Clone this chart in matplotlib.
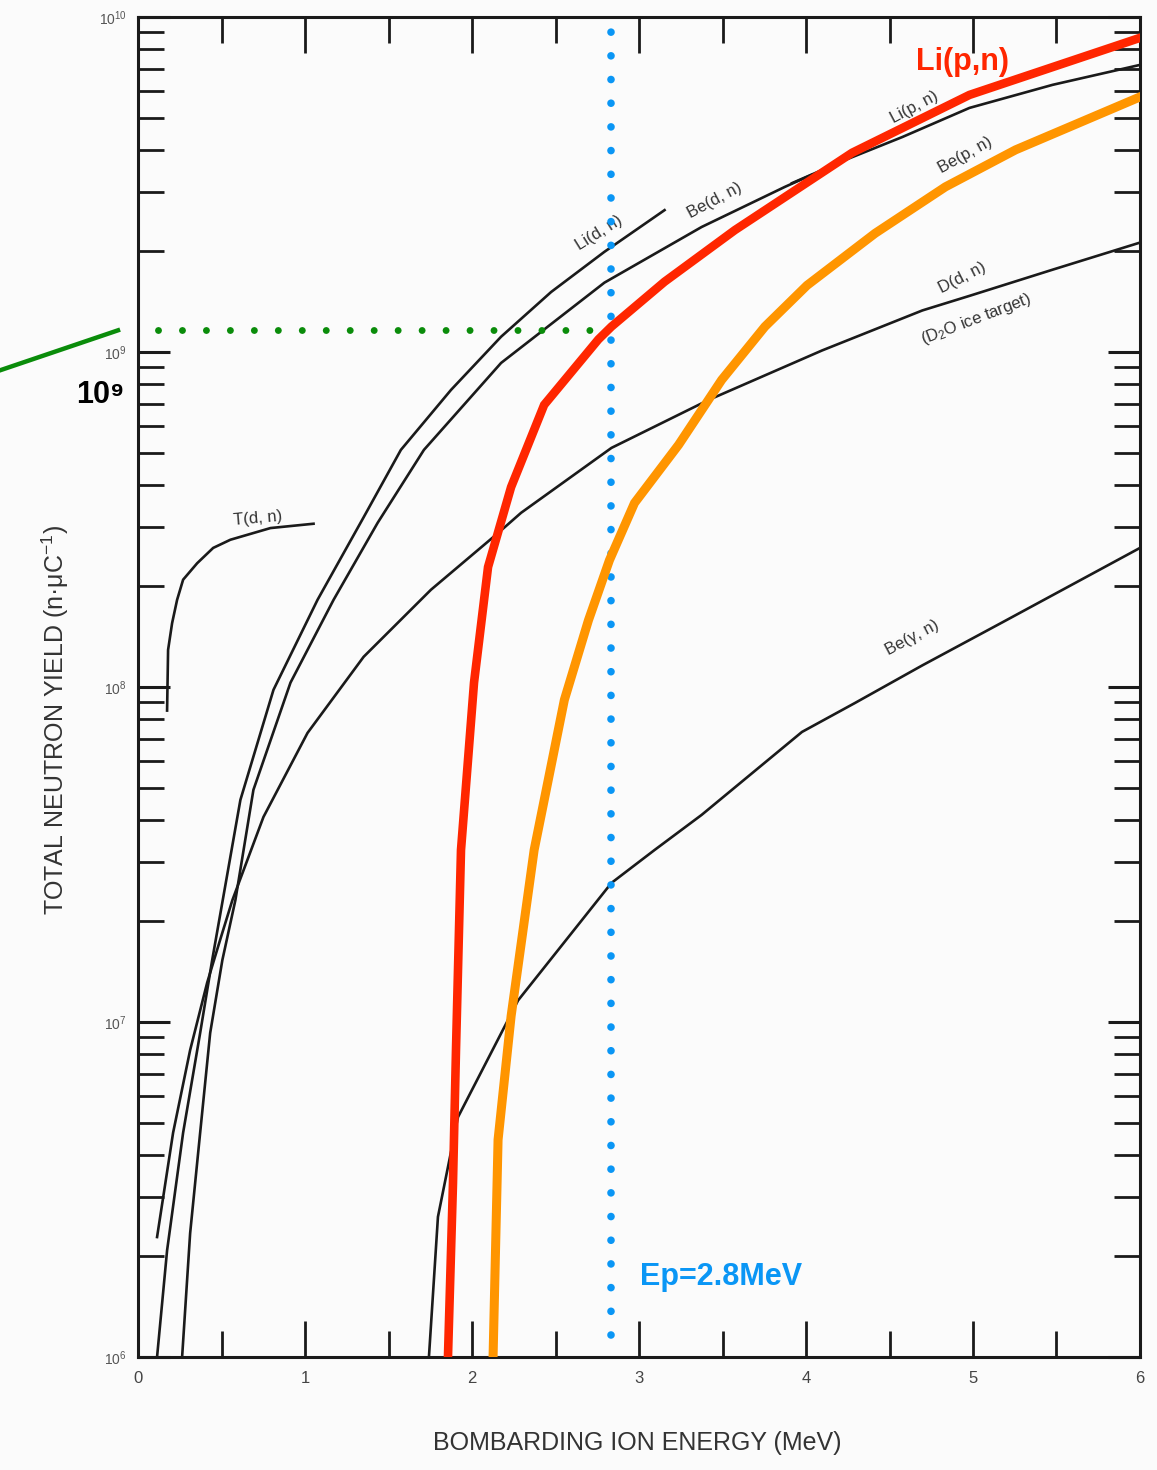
import numpy as np
import matplotlib.pyplot as plt
from matplotlib.ticker import MultipleLocator, LogLocator, NullFormatter

plt.rcParams['font.family'] = ['Liberation Sans', 'DejaVu Sans']
plt.rcParams['mathtext.fontset'] = 'custom'
plt.rcParams['mathtext.rm'] = 'Liberation Sans'
plt.rcParams['mathtext.it'] = 'Liberation Sans:italic'
plt.rcParams['mathtext.bf'] = 'Liberation Sans:bold'

# curves (energy in MeV, yield in n/uC)
td_x = [0.174, 0.180, 0.204, 0.234, 0.270, 0.354, 0.450, 0.553, 0.793, 1.051]
td_y = [8.5e7, 1.29e8, 1.55e8, 1.82e8, 2.09e8, 2.34e8, 2.60e8, 2.75e8, 2.98e8, 3.07e8]

lid_x = [0.114, 0.174, 0.270, 0.372, 0.444, 0.613, 0.811, 1.075, 1.351, 1.574,
         1.874, 2.174, 2.474, 2.793, 3.153]
lid_y = [1.0e6, 2.08e6, 4.67e6, 9.27e6, 1.53e7, 4.60e7, 9.8e7, 1.82e8, 3.21e8, 5.10e8,
         7.70e8, 1.11e9, 1.51e9, 1.99e9, 2.65e9]

bed_x = [0.264, 0.312, 0.372, 0.432, 0.505, 0.583, 0.691, 0.913, 1.171, 1.435,
         1.712, 2.174, 2.793, 3.375, 3.874, 4.036]
bed_y = [1.0e6, 2.34e6, 4.67e6, 9.27e6, 1.53e7, 2.31e7, 4.93e7, 1.03e8, 1.82e8, 3.09e8,
         5.10e8, 9.27e8, 1.61e9, 2.36e9, 3.11e9, 3.38e9]

dd_x = [0.114, 0.210, 0.312, 0.414, 0.492, 0.565, 0.751, 1.015, 1.351, 1.754,
        2.156, 2.294, 2.835, 3.417, 4.096, 4.697, 4.979, 5.477, 6.0]
dd_y = [2.28e6, 4.67e6, 8.24e6, 1.31e7, 1.76e7, 2.31e7, 4.09e7, 7.29e7, 1.23e8, 1.95e8,
        2.88e8, 3.31e8, 5.17e8, 7.19e8, 1.01e9, 1.33e9, 1.47e9, 1.76e9, 2.12e9]

bgn_x = [1.742, 1.796, 1.916, 2.276, 2.835, 3.093, 3.375, 3.976, 4.294, 4.697, 5.177, 6.0]
bgn_y = [1.0e6, 2.62e6, 5.20e6, 1.16e7, 2.60e7, 3.26e7, 4.15e7, 7.34e7, 8.96e7, 1.16e8,
         1.56e8, 2.60e8]

lip_old_x = [3.916, 4.234, 4.577, 4.979, 5.477, 6.0]
lip_old_y = [3.19e9, 3.74e9, 4.38e9, 5.35e9, 6.27e9, 7.19e9]

# overlaid curves
lip_x = [1.856, 1.886, 1.904, 1.934, 2.012, 2.096, 2.234, 2.432, 2.757, 2.835,
         3.153, 3.574, 4.276, 4.979, 6.0]
lip_y = [1.0e6, 3.30e6, 8.24e6, 3.26e7, 1.03e8, 2.28e8, 3.95e8, 6.95e8, 1.09e9, 1.19e9,
         1.62e9, 2.31e9, 3.93e9, 5.85e9, 8.66e9]

bep_x = [2.126, 2.156, 2.234, 2.372, 2.553, 2.697, 2.823, 2.973, 3.237, 3.495,
         3.754, 4.006, 4.414, 4.835, 5.255, 6.0]
bep_y = [1.0e6, 4.45e6, 1.04e7, 3.26e7, 9.15e7, 1.58e8, 2.39e8, 3.54e8, 5.28e8, 8.25e8,
         1.19e9, 1.58e9, 2.26e9, 3.11e9, 4.01e9, 5.77e9]

ep_energy = 2.83
ep_yield = 1.16e9
ep_bottom = 1.16e6
green_start = 0.12
green_end = 2.73
pointer_x = [-0.83, -0.12]
pointer_y = [8.8e8, 1.16e9]

fig = plt.figure(figsize=(11.57, 14.70), dpi=100, facecolor='#fbfbfb')
ax = fig.add_axes([0.1193, 0.0769, 0.8660, 0.9116])
ax.set_facecolor('#fbfbfb')
ax.set_yscale('log')
ax.set_xlim(0, 6)
ax.set_ylim(1e6, 1e10)

black = '#1a1a1a'
lw = 1.9
ax.plot(td_x, td_y, color=black, lw=lw)
ax.plot(lid_x, lid_y, color=black, lw=lw)
ax.plot(bed_x, bed_y, color=black, lw=lw)
ax.plot(dd_x, dd_y, color=black, lw=lw)
ax.plot(bgn_x, bgn_y, color=black, lw=lw)
ax.plot(lip_old_x, lip_old_y, color=black, lw=lw)

# dotted guides
ax.plot([ep_energy, ep_energy], [ep_bottom, 1e10], color='#0a96f5', lw=5.5,
        linestyle=(0, (0.001, 3.1)), dash_capstyle='round', clip_on=False, zorder=4)
ax.plot([green_start, green_end], [ep_yield, ep_yield], color='#0a8c0a', lw=5.0,
        linestyle=(0, (0.001, 3.45)), dash_capstyle='round', zorder=4)
ax.plot(pointer_x, pointer_y, color='#0a8c0a', lw=3.2, clip_on=False)

ax.plot(lip_x, lip_y, color='#ff2600', lw=6.2, solid_joinstyle='miter', zorder=5)
ax.plot(bep_x, bep_y, color='#ff9500', lw=6.5, solid_joinstyle='miter', zorder=5)

# curve labels
lab = dict(color='#333333', fontsize=12, ha='center', va='center')
ax.text(0.715, 3.19e8, 'T(d, n)', rotation=5, **lab)
ax.text(2.763, 2.27e9, 'Li(d, n)', rotation=32, **lab)
ax.text(3.453, 2.84e9, 'Be(d, n)', rotation=28, **lab)
ax.text(4.649, 5.39e9, 'Li(p, n)', rotation=28, **lab)
ax.text(4.955, 3.87e9, 'Be(p, n)', rotation=29, **lab)
ax.text(4.937, 1.66e9, 'D(d, n)', rotation=27, **lab)
ax.text(5.021, 1.25e9, '(D$_2$O ice target)', rotation=21, **lab)
ax.text(4.637, 1.40e8, 'Be(γ, n)', rotation=28, **lab)

ax.text(4.937, 7.34e9, 'Li(p,n)', color='#ff2600', fontsize=22, fontweight='bold',
        ha='center', va='center', zorder=6)
ax.text(3.003, 1.73e6, 'Ep=2.8MeV', color='#0a96f5', fontsize=22, fontweight='bold',
        ha='left', va='center')
fig.text(100 / 1157, 1 - 395 / 1470, '10⁹', fontsize=22, fontweight='bold',
         ha='center', va='center', color='black')

# axes styling
for s in ax.spines.values():
    s.set_linewidth(2.2)
    s.set_color(black)
ax.xaxis.set_major_locator(MultipleLocator(1))
ax.xaxis.set_minor_locator(MultipleLocator(0.5))
ax.yaxis.set_major_locator(LogLocator(base=10))
ax.yaxis.set_minor_locator(LogLocator(base=10, subs=np.arange(2, 10)))
ax.yaxis.set_minor_formatter(NullFormatter())
ax.tick_params(axis='x', which='major', direction='in', length=26, width=2,
               top=True, color=black, labelsize=12, labelcolor='#444444', pad=10)
ax.tick_params(axis='x', which='minor', direction='in', length=19, width=2, top=True,
               color=black)
ax.tick_params(axis='y', which='major', direction='in', length=23, width=2.2,
               right=True, color=black, labelsize=10, labelcolor='#555555', pad=8)
ax.tick_params(axis='y', which='minor', direction='in', length=19, width=2,
               right=True, color=black)

ax.set_xlabel('BOMBARDING ION ENERGY (MeV)', fontsize=18, color='#333333')
ax.set_ylabel('TOTAL NEUTRON YIELD (n·μC$^{-1}$)', fontsize=18, color='#333333')
ax.xaxis.set_label_coords(0.498, -0.055)
ax.yaxis.set_label_coords(-0.067, 0.475)

fig.savefig('out.png', dpi=100, facecolor=fig.get_facecolor())
